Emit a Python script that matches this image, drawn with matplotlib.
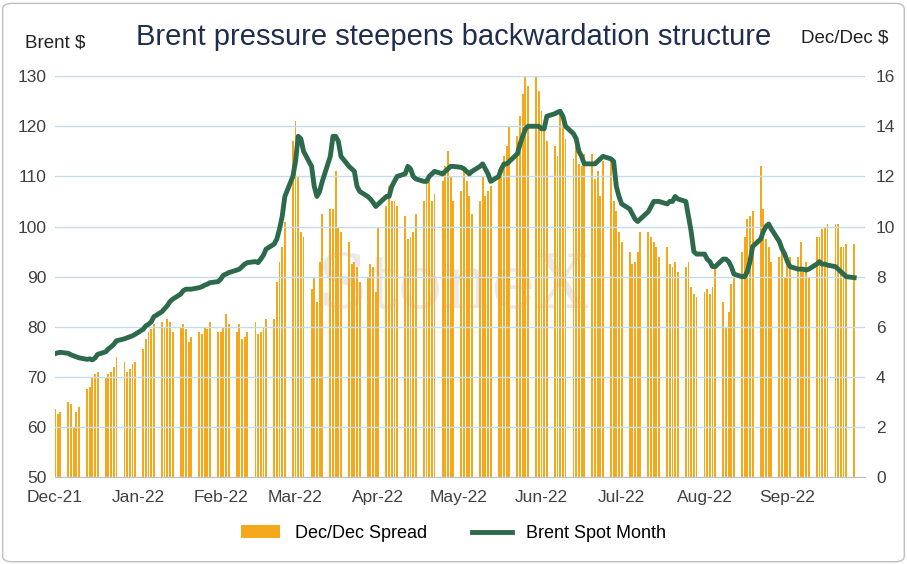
import matplotlib
matplotlib.use("Agg")
import matplotlib.pyplot as plt
import pandas as pd

plt.rcParams['font.family'] = ['Liberation Sans', 'DejaVu Sans']

spread = [2.7,2.5,2.6,3.0,2.9,2.0,2.6,2.8,3.5,3.6,4.0,4.1,4.2,4.0,4.1,4.2,4.4,4.8,4.6,4.2,4.3,4.5,
 4.6,5.1,5.5,5.8,5.9,6.1,6.2,6.0,6.3,6.2,5.8,6.0,6.1,5.9,5.4,5.6,5.8,5.7,6.0,5.9,6.2,
 5.8,5.8,6.0,6.5,6.1,5.8,6.1,5.5,5.6,5.8,6.2,5.7,5.8,6.0,6.3,6.3,7.8,8.6,9.2,10.2,
 13.4,14.2,12.0,9.8,9.6,7.5,8.0,7.0,8.6,10.5,10.7,10.7,12.2,10.0,9.8,9.4,8.5,8.6,8.4,7.8,8.0,8.5,8.4,
 7.4,10.0,10.8,11.6,11.0,11.0,10.8,10.4,9.5,9.6,9.8,10.5,11.0,11.8,12.0,11.0,11.3,11.8,12.4,13.0,
 12.0,11.0,11.4,12.4,11.8,11.2,10.5,11.0,12.0,11.2,11.4,11.6,12.3,12.0,12.8,13.2,14.0,13.6,14.4,15.3,16.0,15.6,
 16.0,15.4,14.6,14.1,13.4,13.2,12.8,14.6,14.3,13.5,12.7,13.2,12.5,12.4,12.9,12.9,11.9,12.2,11.2,12.6,12.7,11.0,
 10.6,9.8,9.4,9.0,8.5,8.6,9.0,9.8,9.8,9.6,9.4,9.2,8.8,9.2,8.5,8.4,8.6,8.2,8.4,8.6,7.6,
 7.3,7.2,7.4,7.5,7.3,7.6,8.4,7.0,6.0,6.6,7.7,8.0,9.0,9.6,10.3,10.4,10.6,12.4,10.7,9.5,9.2,8.6,8.8,
 9.0,8.0,8.6,8.8,8.8,9.4,8.4,8.6,8.0,9.6,9.6,9.9,10.0,10.1,10.1,10.1,9.2,9.2,9.3,9.3]

brent = [74.6,74.8,74.9,74.7,74.4,74.2,74.0,73.8,73.5,73.6,73.4,73.8,74.5,75.0,75.6,76.0,76.5,77.2,77.6,77.8,78.0,78.2,
 78.5,79.5,80.2,80.5,81.0,82.0,83.0,83.6,84.2,85.0,85.5,86.5,87.2,87.5,87.5,87.5,87.8,88.0,88.3,88.5,88.8,
 89.0,89.5,90.3,90.5,90.8,91.3,91.5,92.0,92.5,92.8,93.0,92.8,93.5,94.3,95.5,96.5,97.5,99.5,102,106,
 110,113,118,117.5,115,112,108,106,107,109,114,118,118,117,114,112,111.5,111,108,107,106,105.5,104.8,
 104,104.5,106,106,108,109,110,110.5,112,111.5,110,109.5,109,109,110,110.5,111,110.5,111,111.5,
 112,112,111.8,111.5,111,110.5,111,112,112.5,111.5,110.5,109,110,111.5,112.5,112.5,113,114.5,116.5,118,119.5,120,
 120,120,119.5,119.5,122,122.5,122.8,123,122,120,118.5,117.5,115,114,112.5,112.5,112.5,113,113.5,114,113.5,113,
 108,106,104.5,103.5,102.5,101.5,101,101.5,103,104,105,105,105,104.5,105,105,106,105.5,105,102,99,
 95,94.5,94.5,93.5,93,92,92,93.5,93.5,93,92,90.5,90,90,91,93,96,97.5,99,100,100.5,99.5,97,
 95.5,94.5,93,92,91.5,91.5,91.5,91.3,91.5,92.5,93,92.5,92.5,92.3,92,91.5,91,90.5,90,89.8]

dates = pd.bdate_range("2021-12-01", periods=len(spread))
tick_labels = ["Dec-21","Jan-22","Feb-22","Mar-22","Apr-22","May-22","Jun-22","Jul-22","Aug-22","Sep-22"]

fig = plt.figure(figsize=(9.07,5.64), dpi=100)
ax = fig.add_axes([0.0606, 0.154, 0.893, 0.711])
ax2 = ax.twinx()
grid_c = "#C5DCEB"
ax.set_ylim(50,130); ax.set_yticks(range(50,131,10))
ax2.set_ylim(0,16); ax2.set_yticks(range(0,17,2))
ax.grid(axis="y", color=grid_c, lw=1)
b = ax2.bar(dates, spread, width=0.7, color="#F5A81C", label="Dec/Dec Spread", zorder=2)
ax2.set_zorder(1); ax.set_zorder(2); ax.patch.set_visible(False)
ax2.grid(False)
l, = ax.plot(dates, brent, color="#2D6A4B", lw=3.5, label="Brent Spot Month", zorder=3)
ax.set_xlim(pd.Timestamp("2021-12-01"), pd.Timestamp("2022-09-30"))
ticks = pd.date_range("2021-12-01", periods=10, freq="MS")
ax.set_xticks(ticks); ax.set_xticklabels(tick_labels)
for a in (ax, ax2):
    for s in a.spines.values(): s.set_visible(False)
    a.tick_params(length=0, labelsize=12.5, colors="#404040")
ax.spines["bottom"].set_visible(True); ax.spines["bottom"].set_color("#BFBFBF")
ax.tick_params(axis="x", pad=9)
ax.tick_params(axis="y", pad=6)
ax2.tick_params(axis="y", pad=8)
fig.text(0.5, 0.49, "StoneX", ha="center", va="center", fontsize=54, color="#D0D0D0", alpha=0.45, family="DejaVu Serif", zorder=0)
fig.text(0.5, 0.92, "Brent pressure steepens backwardation structure", ha="center", fontsize=21, color="#1F2D4E")
fig.text(0.028, 0.915, "Brent $", fontsize=13.5, color="#222222")
fig.text(0.98, 0.925, "Dec/Dec $", fontsize=13.5, color="#222222", ha="right")
fig.legend(handles=[b, l], loc="lower center", ncol=2, frameon=False, fontsize=13, bbox_to_anchor=(0.5, 0.01), handlelength=2.2, columnspacing=2.5)
fig.patches.append(matplotlib.patches.FancyBboxPatch((0.003,0.004),0.994,0.99, boxstyle="round,pad=0,rounding_size=0.01", transform=fig.transFigure, fill=False, ec="#BFBFBF", lw=1))
fig.savefig("out.png", dpi=100)
